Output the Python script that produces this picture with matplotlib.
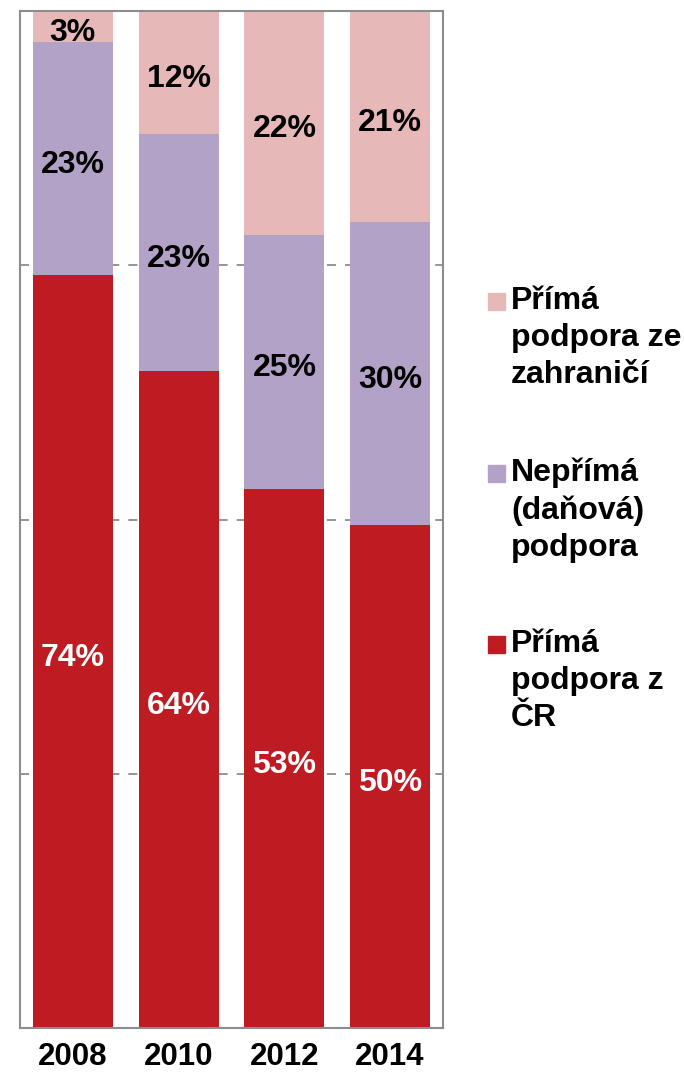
import numpy as np
import matplotlib.pyplot as plt
from matplotlib.patches import Rectangle

roky = ['2008', '2010', '2012', '2014']
prima_cr = [74, 64, 53, 50]
neprima = [23, 23, 25, 30]
prima_zahr = [3, 12, 22, 21]

serie = [prima_cr, neprima, prima_zahr]
nazvy = ['Přímá\npodpora z\nČR', 'Nepřímá\n(daňová)\npodpora', 'Přímá\npodpora ze\nzahraničí']
barvy = ['#BE1B23', '#B3A2C7', '#E6B9B8']
barvy_textu = ['white', 'black', 'black']

plt.rcParams['font.family'] = ['Liberation Sans', 'DejaVu Sans']

fig = plt.figure(figsize=(6.84, 10.72), dpi=100)
ax = fig.add_axes([20 / 684, 1 - 1028 / 1072, 423 / 684, 1017 / 1072])

data = np.array(serie, dtype=float)
podil = data / data.sum(axis=0) * 100
x = np.arange(len(roky))
dole = np.zeros(len(roky))
for i in range(len(serie)):
    ax.bar(x, podil[i], 0.755, bottom=dole, color=barvy[i], zorder=2)
    for j in range(len(roky)):
        ax.annotate(f'{serie[i][j]}%', (x[j], dole[j] + podil[i][j] / 2), xytext=(0, -4.5),
                    textcoords='offset points', ha='center', va='center',
                    fontsize=23, fontweight='bold', color=barvy_textu[i], zorder=3)
    dole += podil[i]

ax.set_xlim(-0.5, 3.5)
ax.set_ylim(0, 100)
for y in [25, 50, 75]:
    ax.axhline(y, color='#8C8C8C', lw=1.3, ls=(0, (5, 5)), zorder=1)
ax.set_yticks([])
ax.set_xticks(x)
ax.set_xticklabels(roky, fontsize=22.5, fontweight='bold')
ax.tick_params(axis='x', length=0, pad=10)
for s in ax.spines.values():
    s.set_color('#8C8C8C')
    s.set_linewidth(1.5)

# legenda
pozice = [644, 473, 301]
for i in range(len(serie)):
    yc = 1 - pozice[i] / 1072
    fig.patches.append(Rectangle((488 / 684, yc - 8.5 / 1072), 17 / 684, 17 / 1072,
                                 transform=fig.transFigure, color=barvy[i]))
    fig.text(511 / 684, 1 - (pozice[i] - 15) / 1072, nazvy[i], ha='left', va='top',
             fontsize=23, fontweight='bold', linespacing=1.3)

fig.savefig('out.png', dpi=100)
